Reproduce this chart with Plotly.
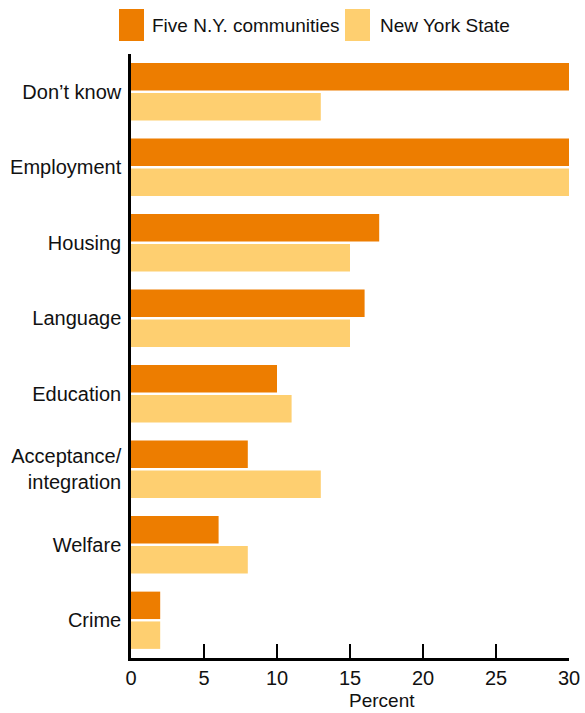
import plotly.graph_objects as go

categories = ["Don’t know", "Employment", "Housing", "Language", "Education",
              "Acceptance/<br>integration", "Welfare", "Crime"]
five_ny = [30, 30, 17, 16, 10, 8, 6, 2]
ny_state = [13, 30, 15, 15, 11, 13, 8, 2]
series_names = ["Five N.Y. communities", "New York State"]
colors = ["#ED7D00", "#FECF70"]
x_ticks = [0, 5, 10, 15, 20, 25, 30]

FONT = "Liberation Sans, Arial, sans-serif"

FW, FH = 585, 713
L, T = 131, 54
R = FW - 569
B = FH - 658
W, H = FW - L - R, FH - T - B

def px(xp):
    return (xp - L) / W
def py(yp):
    return (FH - B - yp) / H

fig = go.Figure()
for name, vals, col in zip(series_names, [five_ny, ny_state], colors):
    fig.add_trace(go.Bar(y=categories, x=vals, orientation="h", name=name,
                         marker=dict(color=col, line=dict(width=0)),
                         showlegend=False))

# custom legend (large swatches)
swatches = [(119, 144, 150), (345, 370, 378)]
for (x0, x1, tx), name, col in zip(swatches, series_names, colors):
    fig.add_shape(type="rect", xref="paper", yref="paper",
                  x0=px(x0), x1=px(x1), y0=py(41), y1=py(9),
                  fillcolor=col, line=dict(width=0))
    fig.add_annotation(xref="paper", yref="paper", x=px(tx), y=py(25),
                       xanchor="left", yanchor="middle", text=name,
                       showarrow=False, font=dict(size=19, color="#111", family=FONT))

fig.add_annotation(xref="paper", yref="paper", x=px(382), y=py(700),
                   xanchor="center", yanchor="middle", text="Percent",
                   showarrow=False, font=dict(size=19, color="#111", family=FONT))

fig.update_layout(
    width=FW, height=FH,
    margin=dict(l=L, r=R, t=T, b=B, autoexpand=False),
    paper_bgcolor="white", plot_bgcolor="white",
    barmode="group", bargap=0.21, bargroupgap=0.08,
    font=dict(family=FONT, size=20, color="#111"),
    xaxis=dict(range=[0, 30], tickvals=x_ticks, ticks="inside", ticklen=14,
               tickwidth=2, tickcolor="black", showline=True, linecolor="black",
               linewidth=2.5, showgrid=False, zeroline=False,
               tickfont=dict(size=20, color="#111")),
    yaxis=dict(autorange="reversed", showline=True, linecolor="black",
               linewidth=2.5, ticks="", showgrid=False, zeroline=False,
               ticklabelstandoff=3, tickfont=dict(size=20, color="#111")),
)

fig.write_html("out.html",
               config={"displayModeBar": False},
               post_script="document.body.style.margin='0';"
                           "document.body.style.overflow='hidden';")
